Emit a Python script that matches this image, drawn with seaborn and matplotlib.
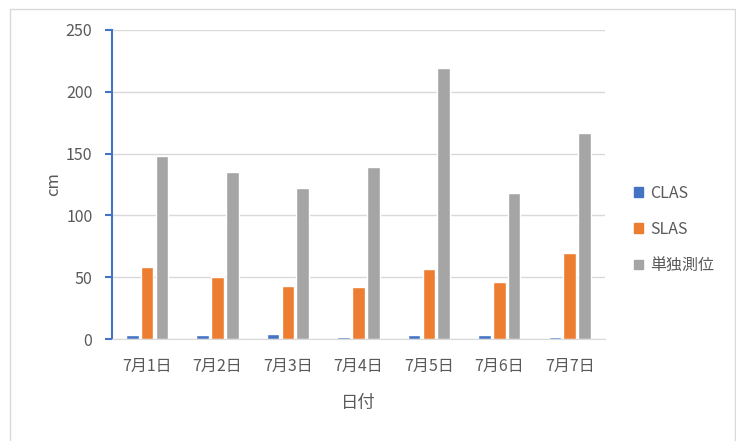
import numpy as np
import pandas as pd
import seaborn as sns
import matplotlib.pyplot as plt
from matplotlib.patches import Rectangle

# data
dates = ['7月1日', '7月2日', '7月3日', '7月4日', '7月5日', '7月6日', '7月7日']
clas = [3, 3, 4, 2, 3, 3, 2]
slas = [58, 50, 43, 42, 57, 46, 70]
single = [148, 135, 122, 139, 219, 118, 167]
series = ['CLAS', 'SLAS', '単独測位']
colors = ['#4472C4', '#ED7D31', '#A5A5A5']

df = pd.DataFrame({'date': dates, 'CLAS': clas, 'SLAS': slas, '単独測位': single})
df = df.melt(id_vars='date', var_name='series', value_name='cm')

sns.set_style('white')
plt.rcParams['font.family'] = ['Noto Sans CJK JP', 'DejaVu Sans']
txt = '#595959'

fig = plt.figure(figsize=(7.36, 4.41), dpi=100)
ax = fig.add_axes([0.152, 0.231, 0.670, 0.701])

sns.barplot(data=df, x='date', y='cm', hue='series', hue_order=series,
            palette=colors, width=0.63, gap=0.15, ax=ax, legend=False,
            errorbar=None, saturation=1)

ax.set_ylim(0, 250)
ax.set_yticks(np.arange(0, 251, 50))
ax.set_xlim(-0.5, len(dates) - 0.5)
ax.yaxis.grid(True, color='#D9D9D9', lw=1)
ax.set_axisbelow(True)

for s in ['top', 'right']:
    ax.spines[s].set_visible(False)
ax.spines['left'].set_color('#4472C4')
ax.spines['left'].set_linewidth(1.5)
ax.spines['bottom'].set_color('#D9D9D9')
ax.tick_params(axis='y', left=True, direction='out', length=5, width=1.5,
               color='#4472C4', labelsize=11.5, labelcolor=txt, pad=9)
ax.tick_params(axis='x', bottom=False, labelsize=11.5, labelcolor=txt, pad=10)

ax.set_xlabel('日付', fontsize=12.5, color=txt, labelpad=14)
ax.set_ylabel('cm', fontsize=12, color=txt, labelpad=3)

# legend on the right
handles = [Rectangle((0, 0), 1, 1, color=c) for c in colors]
fig.legend(handles, series, loc='center left', bbox_to_anchor=(0.842, 0.48),
           frameon=False, fontsize=11.5, labelcolor=txt, handlelength=0.55,
           handleheight=0.55, handletextpad=0.45, labelspacing=1.2)

# outer chart border
fig.patches.append(Rectangle((10 / 736, -0.01), 725 / 736, 1 - 9 / 441 + 0.01,
                             transform=fig.transFigure, fill=False,
                             edgecolor='#D9D9D9', lw=1))

fig.savefig('out.png', dpi=100)
